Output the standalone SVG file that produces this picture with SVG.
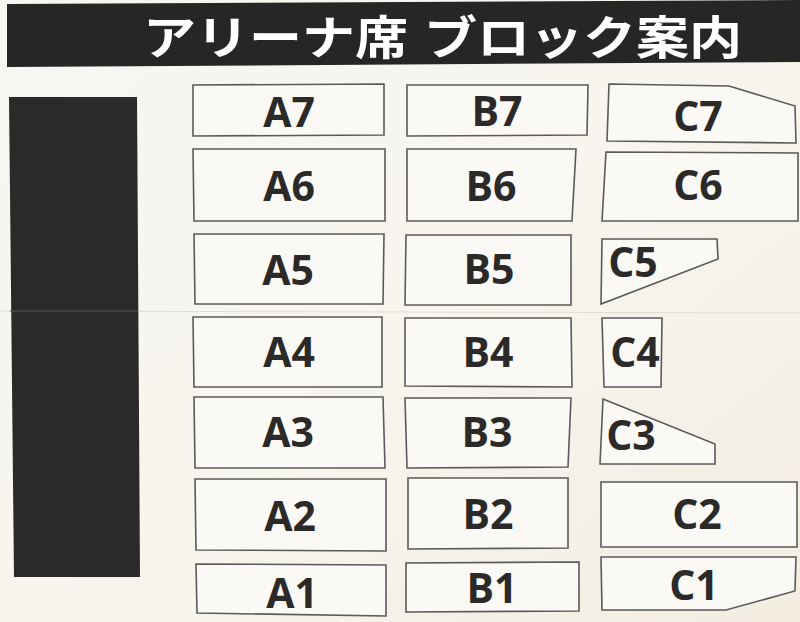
<svg xmlns="http://www.w3.org/2000/svg" width="800" height="622" viewBox="0 0 800 622">
<defs>
<linearGradient id="bg" x1="0" y1="0" x2="1" y2="1">
<stop offset="0" stop-color="#f7f6f2"/>
<stop offset="0.5" stop-color="#f8f5ee"/>
<stop offset="1" stop-color="#f3ede2"/>
</linearGradient>
</defs>
<style>
.blk{fill:#faf9f5;stroke:#5a5a58;stroke-width:1.6}
.lbl{font-family:"Open Sans","Noto Sans","DejaVu Sans",sans-serif;font-weight:700;font-size:41px;fill:#2b2a28;text-anchor:middle}
.ttl{font-family:"Noto Sans CJK JP","Noto Sans",sans-serif;font-weight:700;font-size:46px;fill:#ffffff}
</style>
<rect x="0" y="0" width="800" height="622" fill="url(#bg)"/>
<line x1="0" y1="311" x2="800" y2="313" stroke="#e2ddd3" stroke-width="1"/>
<g id="header">
<polygon points="7,4 800,0 800,62 7,67" fill="#262626"/>
<text class="ttl" x="143" y="54" textLength="265" lengthAdjust="spacingAndGlyphs">アリーナ席</text>
<text class="ttl" x="424" y="54" textLength="318" lengthAdjust="spacingAndGlyphs">ブロック案内</text>
</g>
<g id="stage">
<polygon points="9,97 137,97 140,577 14,577" fill="#2a2a28"/>
<line x1="10" y1="311" x2="138" y2="311" stroke="#55544f" stroke-width="1"/>
</g>
<g id="A7"><polygon class="blk" points="193,85 384,84 384,135 193,136"/><text class="lbl" x="289" y="127">A7</text></g>
<g id="A6"><polygon class="blk" points="193,149 385,149 385,221 194,221"/><text class="lbl" x="289" y="201">A6</text></g>
<g id="A5"><polygon class="blk" points="194,234 384,234 383,304 195,304"/><text class="lbl" x="288" y="285">A5</text></g>
<g id="A4"><polygon class="blk" points="193,317 382,317 382,387 194,387"/><text class="lbl" x="289" y="367">A4</text></g>
<g id="A3"><polygon class="blk" points="194,397 383,397 385,468 195,468"/><text class="lbl" x="288" y="447">A3</text></g>
<g id="A2"><polygon class="blk" points="195,479 386,479 386,551 196,550"/><text class="lbl" x="290" y="531">A2</text></g>
<g id="A1"><polygon class="blk" points="196,564 386,565 386,616 197,613"/><text class="lbl" x="292" y="608">A1</text></g>
<g id="B7"><polygon class="blk" points="407,85 588,85 587,135 407,136"/><text class="lbl" x="497" y="126">B7</text></g>
<g id="B6"><polygon class="blk" points="407,149 576,149 572,221 407,221"/><text class="lbl" x="491" y="201">B6</text></g>
<g id="B5"><polygon class="blk" points="406,235 571,235 571,305 405,305"/><text class="lbl" x="489" y="284">B5</text></g>
<g id="B4"><polygon class="blk" points="405,318 571,318 572,387 405,386"/><text class="lbl" x="488" y="367">B4</text></g>
<g id="B3"><polygon class="blk" points="405,398 571,398 568,467 407,468"/><text class="lbl" x="487" y="447">B3</text></g>
<g id="B2"><polygon class="blk" points="408,478 568,478 568,548 408,549"/><text class="lbl" x="488" y="529">B2</text></g>
<g id="B1"><polygon class="blk" points="406,563 579,562 579,611 406,612"/><text class="lbl" x="492" y="603">B1</text></g>
<g id="C7"><polygon class="blk" points="609,84 729,86 795,106 796,143 607,141"/><text class="lbl" x="698" y="131">C7</text></g>
<g id="C6"><polygon class="blk" points="606,152 798,153 798,221 602,221"/><text class="lbl" x="698" y="200">C6</text></g>
<g id="C5"><polygon class="blk" points="602,239 717,239 718,259 601,304"/><text class="lbl" x="633" y="277">C5</text></g>
<g id="C4"><polygon class="blk" points="602,318 662,318 661,387 604,387"/><text class="lbl" x="635" y="367">C4</text></g>
<g id="C3"><polygon class="blk" points="603,399 715,444 715,464 600,464"/><text class="lbl" x="631" y="450">C3</text></g>
<g id="C2"><polygon class="blk" points="601,482 797,482 797,547 601,547"/><text class="lbl" x="697" y="529">C2</text></g>
<g id="C1"><polygon class="blk" points="601,557 796,557 795,591 726,610 602,610"/><text class="lbl" x="694" y="600">C1</text></g>
</svg>
